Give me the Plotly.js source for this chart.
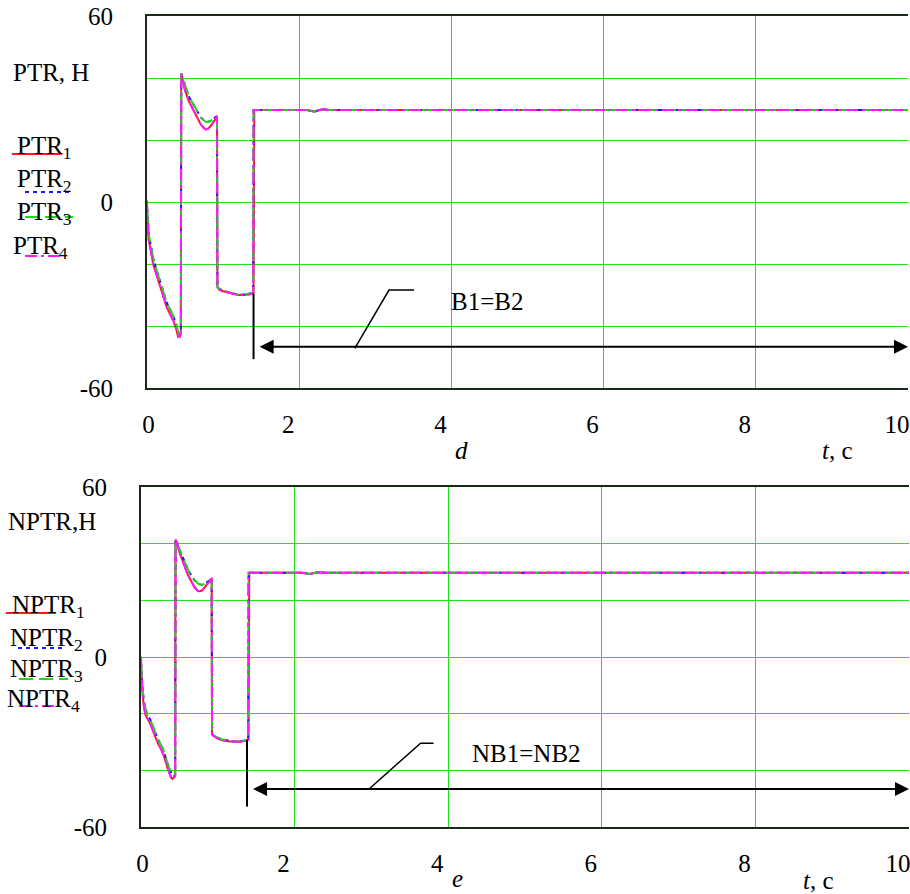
<!DOCTYPE html>
<html>
<head>
<meta charset="utf-8">
<script src="https://cdn.plot.ly/plotly-3.0.1.min.js"></script>
<style>html,body{margin:0;padding:0;background:#fff;}#chart{width:910px;height:894px;}</style>
</head>
<body>
<div id="chart"></div>
<script>
// ---- time axis (s) ----
const T = [0, 0.004, 0.012, 0.02, 0.04, 0.06, 0.08, 0.12, 0.17, 0.22, 0.26, 0.30, 0.35, 0.39, 0.41, 0.43, 0.445,
  0.45, 0.47, 0.50, 0.55, 0.61, 0.66, 0.70, 0.74, 0.77, 0.80, 0.84, 0.88, 0.915, 0.92,
  0.925, 0.95, 1.00, 1.05, 1.12, 1.20, 1.28, 1.35, 1.395, 1.40, 1.41, 1.45, 1.6, 2.1, 2.2, 2.3, 2.4, 3, 10];

// ---- panel d : PTR, H ----
const PTR1 = [-3, -4, -6, -12, -14, -17, -20, -23, -27, -31, -34, -36, -38.5, -41.5, -43.5, -43.5, -42.5,
  41.5, 39.5, 36, 32.5, 29.5, 27, 25.3, 24, 23.4, 23.6, 24.6, 26, 27.7, 27.7,
  -27.5, -28.3, -28.8, -29.1, -29.6, -30, -30, -29.8, -29.4, -29.3, 29.7, 29.7, 29.5, 29.7, 29.1, 29.9, 29.7, 29.7, 29.7];
const PTR2 = [-2, -3, -5, -10, -12.5, -15.5, -18, -21.5, -25.5, -29.5, -32.5, -34.5, -37, -40, -42, -42.5, -42,
  41.5, 40, 37, 34, 31.5, 29, 27.5, 26.5, 25.9, 25.8, 26.2, 27, 27.7, 27.7,
  -27.5, -28, -28.6, -29, -29.5, -29.8, -29.8, -29.5, -29.2, 29.7, 29.7, 29.7, 29.5, 29.7, 29.2, 29.9, 29.7, 29.7, 29.7];
const PTR3 = [-2, -3, -5, -10, -12.5, -15.5, -18, -21.5, -25.5, -29.5, -32.5, -34.5, -37, -40, -42, -42.5, -42,
  41.5, 40, 37, 34, 31.5, 29, 27.5, 26.5, 25.9, 25.8, 26.2, 27, 27.7, 27.7,
  -27.5, -28, -28.6, -29, -29.5, -29.8, -29.8, -29.5, -29.2, 29.7, 29.7, 29.7, 29.5, 29.7, 29.2, 29.9, 29.7, 29.7, 29.7];
const PTR4 = [0.5, -4, -6, -12, -14, -17, -20, -23, -27, -31, -34, -36, -38.5, -41.5, -43.5, -43.5, -42.5,
  41.5, 39.5, 36, 32.5, 29.5, 27, 25.3, 24, 23.4, 23.6, 24.6, 26, 27.7, 27.7,
  -27.5, -28.3, -28.8, -29.1, -29.6, -30, -30, -29.8, -29.4, 29.7, 29.7, 29.7, 29.5, 29.7, 29.1, 29.9, 29.7, 29.7, 29.7];

// ---- panel e : NPTR, H ----
const NPTR1 = [-3, -5, -9, -13, -18, -20.5, -21.5, -23.5, -27, -30.5, -32.5, -35, -39.5, -42.5, -43, -42.5, -42,
  41.4, 40, 37, 33, 29, 26.5, 24.5, 23.3, 23.2, 23.6, 24.8, 26.3, 27.6, 27.6,
  -27.3, -28, -28.8, -29.3, -29.7, -29.9, -29.9, -29.6, -29.2, -29.2, 29.7, 29.7, 29.5, 29.7, 29.3, 29.9, 29.7, 29.7, 29.7];
const NPTR2 = [-2, -4, -7, -11, -16, -19, -20.5, -22, -25.5, -29, -31, -33.5, -38, -41, -42, -42, -41.5,
  41.4, 40.5, 38, 34.5, 31, 28.5, 27, 26, 25.6, 25.5, 26, 26.8, 27.6, 27.6,
  -27.3, -27.8, -28.5, -29, -29.5, -29.8, -29.8, -29.5, -29, 29.7, 29.7, 29.7, 29.5, 29.7, 29.3, 29.9, 29.7, 29.7, 29.7];
const NPTR3 = [-2, -4, -7, -11, -16, -19, -20.5, -22, -25.5, -29, -31, -33.5, -38, -41, -42, -42, -41.5,
  41.4, 40.5, 38, 34.5, 31, 28.5, 27, 26, 25.6, 25.5, 26, 26.8, 27.6, 27.6,
  -27.3, -27.8, -28.5, -29, -29.5, -29.8, -29.8, -29.5, -29, 29.7, 29.7, 29.7, 29.5, 29.7, 29.3, 29.9, 29.7, 29.7, 29.7];
const NPTR4 = [0.2, -5, -9, -13, -18, -20.5, -21.5, -23.5, -27, -30.5, -32.5, -35, -39.5, -42.5, -43, -42.5, -42,
  41.4, 40, 37, 33, 29, 26.5, 24.5, 23.3, 23.2, 23.6, 24.8, 26.3, 27.6, 27.6,
  -27.3, -28, -28.8, -29.3, -29.7, -29.9, -29.9, -29.6, -29.2, 29.7, 29.7, 29.7, 29.5, 29.7, 29.3, 29.9, 29.7, 29.7, 29.7];

// ---- tick labels ----
const xTickVals = [0, 2, 4, 6, 8, 10];
const xTickText = ['\u2007\u20070', '2', '4', '6', '8', '10'];
const yTickVals = [-60, 0, 60];
const yTickText = ['-60', '0', '60'];
const yGridVals = [-40, -20, 20, 40];

// ---- annotation markers (switch time, arrow level) ----
const topMarker = {t: 1.40, yTop: -29.5, yBot: -50.7, arrowY: -46.7, label: 'B1=B2'};
const botMarker = {t: 1.38, yTop: -29.2, yBot: -52.8, arrowY: -46.6, label: 'NB1=NB2'};

const FONT = 'Liberation Serif';
const FS = 25;
const W = 910, H = 894;
const GRID = '#20e020';
const FRAME = '#1a2a1a';
const styles = [
  {color: '#ff1a1a', dash: 'solid'},
  {color: '#1a1aff', dash: '4px,4px'},
  {color: '#19d919', dash: '14px,6px'},
  {color: '#ff19ff', dash: '12px,4px,3px,4px'}
];

function px(x, y) { return {x: x / W, y: 1 - y / H}; }

const traces = [];
[PTR1, PTR2, PTR3, PTR4].forEach((s, i) => traces.push({
  x: T, y: s, type: 'scatter', mode: 'lines', xaxis: 'x', yaxis: 'y',
  line: {color: styles[i].color, dash: styles[i].dash, width: 2}, hoverinfo: 'skip'
}));
[NPTR1, NPTR2, NPTR3, NPTR4].forEach((s, i) => traces.push({
  x: T, y: s, type: 'scatter', mode: 'lines', xaxis: 'x2', yaxis: 'y2',
  line: {color: styles[i].color, dash: styles[i].dash, width: 2}, hoverinfo: 'skip'
}));

function xax(domain, anchor) {
  return {domain: domain, anchor: anchor, range: [0, 10], tickmode: 'array', tickvals: xTickVals, ticktext: xTickText,
    showgrid: true, gridcolor: GRID, gridwidth: 1, zeroline: false, showline: true, mirror: true,
    linecolor: FRAME, linewidth: 2, ticks: '', ticklabelstandoff: 13, ticklabelshift: -11, ticklabeloverflow: 'allow',
    tickfont: {family: FONT, size: FS, color: '#000'}, fixedrange: true};
}
function yax(domain, anchor) {
  return {domain: domain, anchor: anchor, range: [-60, 60], tickmode: 'array', tickvals: yTickVals, ticktext: yTickText,
    showgrid: true, gridcolor: GRID, gridwidth: 1, zeroline: false, showline: true, mirror: false,
    minor: {tickmode: 'array', tickvals: yGridVals, showgrid: true, gridcolor: GRID, gridwidth: 1, ticks: ''},
    linecolor: FRAME, linewidth: 2, ticks: '', ticklabelstandoff: 27, ticklabeloverflow: 'allow',
    tickfont: {family: FONT, size: FS, color: '#000'}, fixedrange: true};
}

const shapes = [];
const annotations = [];

function addMarker(m, xr, yr) {
  shapes.push({type: 'line', xref: xr, yref: yr, x0: m.t, x1: m.t, y0: m.yTop, y1: m.yBot,
    line: {color: '#000', width: 2}});
  annotations.push({xref: xr, yref: yr, axref: xr, ayref: yr, x: 10, y: m.arrowY, ax: m.t + 0.06, ay: m.arrowY,
    text: '', showarrow: true, arrowhead: 2, startarrowhead: 2, arrowside: 'end+start',
    arrowsize: 1.4, startarrowsize: 1.4, arrowwidth: 2, arrowcolor: '#000', standoff: 0, startstandoff: 0});
}
addMarker(topMarker, 'x', 'y');
addMarker(botMarker, 'x2', 'y2');

// leader lines to labels
shapes.push({type: 'path', xref: 'x', yref: 'y', path: 'M2.73,-47.2 L3.18,-28.4 L3.51,-28.4', line: {color: '#000', width: 1.5}});
shapes.push({type: 'path', xref: 'x2', yref: 'y2', path: 'M2.97,-46.6 L3.64,-30.4 L3.81,-30.4', line: {color: '#000', width: 1.5}});
annotations.push({xref: 'x', yref: 'y', x: 3.97, y: -32.2, xanchor: 'left', yanchor: 'middle', showarrow: false,
  text: topMarker.label, font: {family: FONT, size: FS, color: '#000'}});
annotations.push({xref: 'x2', yref: 'y2', x: 4.28, y: -33.9, xanchor: 'left', yanchor: 'middle', showarrow: false,
  text: botMarker.label, font: {family: FONT, size: FS, color: '#000'}});

// text labels
function txt(x, y, text, anchor) {
  const p = px(x, y);
  annotations.push({xref: 'paper', yref: 'paper', x: p.x, y: p.y, xanchor: anchor || 'left', yanchor: 'middle',
    showarrow: false, text: text, font: {family: FONT, size: FS, color: '#000'}});
}
txt(11, 72, 'PTR, H');
txt(15, 147, 'PTR<sub>1</sub>');
txt(15, 181, 'PTR<sub>2</sub>');
txt(15, 213, 'PTR<sub>3</sub>');
txt(11, 248, 'PTR<sub>4</sub>');
txt(6, 521, 'NPTR,H');
txt(10, 606, 'NPTR<sub>1</sub>');
txt(8, 639, 'NPTR<sub>2</sub>');
txt(8, 670, 'NPTR<sub>3</sub>');
txt(5, 700, 'NPTR<sub>4</sub>');
txt(461, 450, '<i>d</i>', 'center');
txt(837, 450, '<i>t</i>, c', 'center');
txt(457, 878, '<i>e</i>', 'center');
txt(818, 880, '<i>t</i>, c', 'center');

// legend line samples
function sample(x0, x1, y, i) {
  const a = px(x0, y), b = px(x1, y);
  shapes.push({type: 'line', xref: 'paper', yref: 'paper', x0: a.x, x1: b.x, y0: a.y, y1: a.y,
    line: {color: styles[i].color, dash: styles[i].dash, width: 2}});
}
sample(12, 62, 154, 0);
sample(25, 69, 192, 1);
sample(25, 73, 217, 2);
sample(25, 60, 256, 3);
sample(6, 56, 613, 0);
sample(18, 62, 648, 1);
sample(19, 68, 679, 2);
sample(19, 55, 706, 3);

const layout = {
  width: W, height: H, margin: {l: 0, r: 0, t: 0, b: 0},
  paper_bgcolor: '#fff', plot_bgcolor: '#fff', showlegend: false,
  font: {family: FONT, size: FS, color: '#000'},
  xaxis: xax([147 / W, 908 / W], 'y'),
  yaxis: yax([1 - 388 / H, 1 - 16 / H], 'x'),
  xaxis2: xax([141 / W, 909 / W], 'y2'),
  yaxis2: yax([1 - 827 / H, 1 - 487 / H], 'x2'),
  shapes: shapes, annotations: annotations
};

Plotly.newPlot('chart', traces, layout, {displayModeBar: false, staticPlot: true});
</script>
</body>
</html>
